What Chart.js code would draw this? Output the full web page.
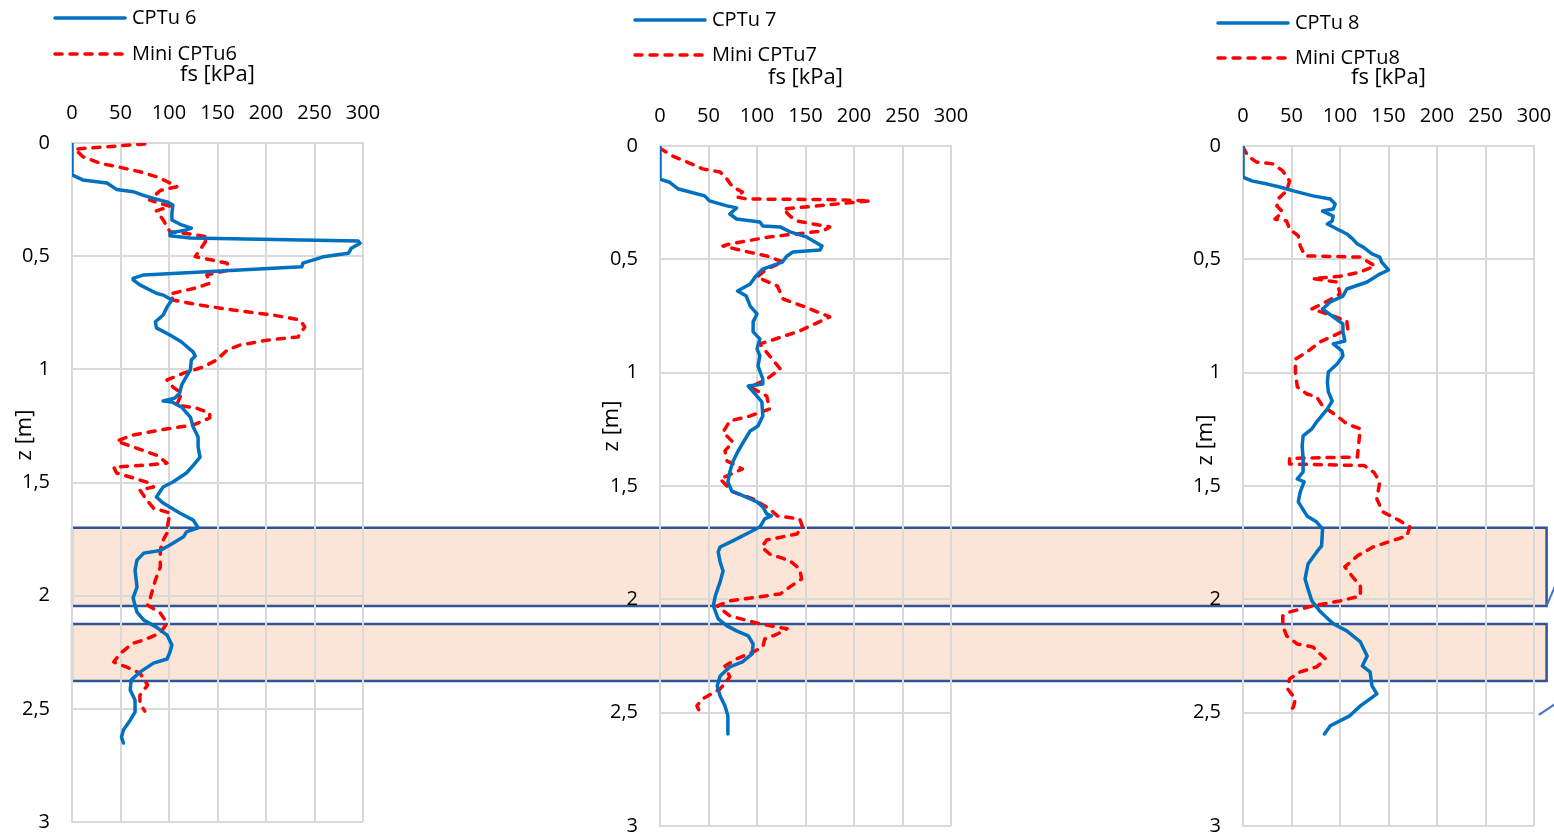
<!DOCTYPE html>
<html>
<head>
<meta charset="utf-8">
<title>fs profiles CPTu vs Mini CPTu</title>
<script src="https://cdn.jsdelivr.net/npm/chart.js@4.4.1/dist/chart.umd.min.js"></script>
<style>
    html, body { margin: 0; padding: 0; background: #fff; overflow: hidden; }
    #wrap { position: relative; width: 1554px; height: 837px; overflow: hidden; }
    #wrap canvas { position: absolute; top: 0; }
</style>
</head>
<body>
<div id="wrap">
    <canvas id="bands" width="1554" height="837" style="left:0"></canvas>
    <canvas id="chart6" width="400" height="860" style="left:0px"></canvas>
    <canvas id="chart7" width="400" height="860" style="left:588px"></canvas>
    <canvas id="chart8" width="400" height="860" style="left:1171px"></canvas>
</div>
<script>
// axis ticks
const fsTicks = [0, 50, 100, 150, 200, 250, 300];
const zTicks = [0, 0.5, 1, 1.5, 2, 2.5, 3];

// CPTu 6
const z6 = [0, 0.141, 0.163, 0.177, 0.205, 0.215, 0.23, 0.245, 0.26, 0.274, 0.31, 0.34, 0.362, 0.376, 0.384, 0.397, 0.41, 0.42, 0.433, 0.443, 0.465, 0.487, 0.503, 0.531, 0.547, 0.583, 0.598, 0.605, 0.627, 0.664, 0.672, 0.694, 0.725, 0.76, 0.79, 0.817, 0.848, 0.879, 0.924, 0.941, 0.959, 1.003, 1.039, 1.07, 1.105, 1.127, 1.14, 1.144, 1.167, 1.211, 1.255, 1.299, 1.343, 1.388, 1.414, 1.458, 1.498, 1.52, 1.564, 1.591, 1.635, 1.666, 1.70, 1.718, 1.74, 1.776, 1.80, 1.812, 1.843, 1.887, 1.962, 2.01, 2.073, 2.108, 2.139, 2.174, 2.218, 2.249, 2.28, 2.298, 2.338, 2.373, 2.417, 2.461, 2.514, 2.55, 2.594, 2.625, 2.651];
const fs6 = [0, 0, 11, 36, 46, 63, 73, 84, 98, 104, 103, 103, 113, 123, 118, 101, 101, 122, 295, 297, 288, 285, 259, 238, 237, 74, 63, 63, 70, 87, 94, 103, 98, 94, 86, 87, 101, 113, 125, 127, 123, 122, 117, 113, 111, 106, 94, 103, 113, 122, 125, 130, 130, 132, 127, 118, 104, 94, 87, 94, 111, 125, 130, 118, 115, 101, 91, 74, 67, 65, 67, 63, 67, 74, 87, 98, 103, 101, 98, 84, 70, 61, 60, 65, 65, 60, 53, 51, 53];

// Mini CPTu6
const zMini6 = [0.004, 0.027, 0.06, 0.09, 0.104, 0.127, 0.149, 0.17, 0.193, 0.21, 0.252, 0.28, 0.30, 0.34, 0.37, 0.392, 0.40, 0.415, 0.44, 0.502, 0.531, 0.562, 0.583, 0.62, 0.64, 0.667, 0.694, 0.716, 0.738, 0.76, 0.782, 0.813, 0.857, 0.871, 0.893, 0.915, 0.959, 0.99, 1.017, 1.047, 1.078, 1.105, 1.158, 1.171, 1.193, 1.215, 1.246, 1.268, 1.29, 1.317, 1.343, 1.379, 1.414, 1.423, 1.432, 1.458, 1.48, 1.502, 1.52, 1.533, 1.577, 1.613, 1.635, 1.679, 1.723, 1.754, 1.798, 1.874, 1.931, 2.006, 2.042, 2.077, 2.121, 2.165, 2.196, 2.21, 2.254, 2.293, 2.315, 2.342, 2.395, 2.44, 2.475, 2.51];
const fsMini6 = [75, 3, 11, 29, 46, 70, 87, 98, 108, 91, 80, 101, 87, 94, 98, 101, 118, 140, 137, 127, 160, 161, 139, 142, 128, 101, 104, 132, 166, 207, 235, 240, 233, 201, 173, 160, 149, 135, 115, 98, 104, 113, 108, 128, 142, 142, 125, 91, 63, 46, 63, 87, 98, 77, 43, 46, 63, 80, 84, 70, 77, 84, 101, 99, 98, 94, 91, 91, 86, 81, 78, 91, 98, 91, 74, 63, 50, 43, 56, 70, 78, 70, 70, 75];

// CPTu 7
const z7 = [0, 0.146, 0.16, 0.19, 0.203, 0.22, 0.242, 0.264, 0.273, 0.30, 0.322, 0.335, 0.353, 0.357, 0.379, 0.401, 0.441, 0.459, 0.468, 0.485, 0.512, 0.543, 0.573, 0.609, 0.64, 0.662, 0.706, 0.741, 0.776, 0.82, 0.851, 0.895, 0.926, 0.97, 1.028, 1.05, 1.059, 1.094, 1.129, 1.191, 1.235, 1.257, 1.306, 1.35, 1.394, 1.438, 1.482, 1.522, 1.544, 1.57, 1.592, 1.623, 1.632, 1.645, 1.68, 1.703, 1.742, 1.769, 1.791, 1.835, 1.875, 1.923, 1.985, 2.029, 2.086, 2.117, 2.139, 2.161, 2.197, 2.241, 2.276, 2.298, 2.338, 2.382, 2.426, 2.47, 2.514, 2.594];
const fs7 = [0, 0, 10, 19, 31, 46, 51, 69, 79, 72, 79, 103, 106, 124, 134, 151, 167, 165, 137, 131, 126, 106, 99, 93, 80, 89, 93, 100, 96, 96, 103, 100, 103, 101, 106, 106, 91, 98, 105, 106, 101, 93, 86, 80, 75, 72, 70, 74, 86, 100, 106, 110, 115, 108, 103, 93, 75, 62, 60, 62, 65, 62, 57, 55, 60, 69, 79, 91, 96, 95, 85, 72, 62, 59, 62, 67, 70, 70];

// Mini CPTu7
const zMini7 = [0.01, 0.044, 0.071, 0.101, 0.115, 0.146, 0.181, 0.203, 0.225, 0.234, 0.236, 0.242, 0.278, 0.309, 0.331, 0.357, 0.375, 0.401, 0.432, 0.441, 0.463, 0.485, 0.512, 0.543, 0.578, 0.618, 0.675, 0.706, 0.754, 0.816, 0.86, 0.873, 0.926, 0.984, 1.028, 1.063, 1.103, 1.16, 1.191, 1.213, 1.262, 1.306, 1.345, 1.389, 1.425, 1.469, 1.526, 1.557, 1.601, 1.632, 1.645, 1.681, 1.712, 1.738, 1.769, 1.80, 1.83, 1.866, 1.91, 1.945, 1.976, 2.007, 2.029, 2.073, 2.108, 2.13, 2.153, 2.175, 2.21, 2.232, 2.263, 2.294, 2.342, 2.395, 2.439, 2.47, 2.497];
const fsMini7 = [0, 13, 28, 44, 62, 69, 75, 85, 79, 90, 170, 217, 127, 134, 141, 175, 168, 113, 72, 65, 86, 110, 127, 110, 100, 121, 127, 147, 175, 144, 113, 103, 113, 124, 110, 93, 110, 113, 93, 72, 65, 75, 67, 69, 85, 62, 75, 96, 113, 121, 144, 147, 141, 110, 105, 113, 134, 144, 146, 134, 124, 72, 59, 72, 103, 131, 121, 108, 106, 96, 79, 67, 72, 62, 44, 38, 41];

// CPTu 8
const z8 = [0, 0.137, 0.154, 0.168, 0.181, 0.198, 0.22, 0.234, 0.256, 0.278, 0.287, 0.309, 0.331, 0.344, 0.366, 0.388, 0.41, 0.432, 0.446, 0.476, 0.49, 0.512, 0.547, 0.565, 0.6, 0.631, 0.662, 0.688, 0.719, 0.754, 0.785, 0.82, 0.86, 0.873, 0.904, 0.926, 0.962, 0.997, 1.041, 1.085, 1.125, 1.16, 1.217, 1.248, 1.279, 1.323, 1.381, 1.438, 1.469, 1.482, 1.526, 1.57, 1.632, 1.659, 1.69, 1.764, 1.791, 1.844, 1.91, 1.954, 2.007, 2.051, 2.108, 2.139, 2.188, 2.25, 2.294, 2.32, 2.382, 2.417, 2.439, 2.47, 2.514, 2.536, 2.558, 2.594];
const fs8 = [0, 0, 9, 25, 38, 52, 72, 90, 95, 93, 82, 93, 92, 87, 97, 107, 113, 118, 124, 133, 141, 143, 150, 141, 128, 107, 103, 90, 82, 93, 103, 103, 105, 93, 102, 103, 97, 88, 87, 88, 92, 87, 76, 71, 62, 61, 62, 62, 56, 63, 59, 57, 66, 76, 82, 81, 76, 67, 64, 67, 71, 79, 93, 107, 121, 128, 123, 131, 133, 138, 131, 121, 110, 100, 90, 84];

// Mini CPTu8
const zMini8 = [0.005, 0.044, 0.071, 0.079, 0.11, 0.154, 0.198, 0.234, 0.265, 0.291, 0.322, 0.331, 0.366, 0.397, 0.441, 0.485, 0.487, 0.49, 0.529, 0.556, 0.575, 0.585, 0.6, 0.653, 0.684, 0.719, 0.741, 0.772, 0.807, 0.838, 0.865, 0.909, 0.94, 0.997, 1.063, 1.094, 1.107, 1.147, 1.191, 1.226, 1.248, 1.323, 1.372, 1.378, 1.403, 1.41, 1.44, 1.482, 1.557, 1.614, 1.654, 1.681, 1.72, 1.734, 1.769, 1.808, 1.857, 1.901, 1.941, 1.985, 2.007, 2.029, 2.056, 2.073, 2.117, 2.161, 2.197, 2.21, 2.263, 2.298, 2.32, 2.351, 2.395, 2.439, 2.475, 2.506];
const fsMini8 = [0, 5, 14, 31, 41, 48, 45, 36, 35, 41, 33, 45, 48, 57, 59, 64, 90, 121, 136, 121, 100, 72, 97, 100, 87, 71, 87, 107, 108, 93, 79, 66, 54, 54, 56, 66, 76, 82, 97, 107, 121, 119, 118, 48, 48, 125, 135, 141, 138, 144, 162, 172, 169, 159, 134, 118, 105, 113, 121, 121, 100, 72, 48, 41, 41, 45, 56, 72, 85, 76, 59, 48, 46, 54, 52, 46];

// highlighted depth bands (z in m) and the pointer lines at the right edge
const bandTop = [1.70, 2.125];
const bandBottom = [2.046, 2.377];
const bandRightFs = 313;
const pointerFrom = [[313, 2.029], [305, 2.51]];
const pointerTo = [[327, 1.888], [342, 2.404]];

const panelLeft = [0, 588, 1171];

Chart.defaults.font.family = '"Open Sans", sans-serif';
Chart.defaults.font.size = 20;
Chart.defaults.color = '#000';

const gridColor = '#d9d9d9';

// Stacked legend + rotated depth title, drawn like the spreadsheet original
const panelText = {
    id: 'panelText',
    afterDraw(chart, args, opts) {
        const ctx = chart.ctx;
        ctx.save();
        ctx.font = '20px "Open Sans", sans-serif';
        ctx.fillStyle = '#000';
        ctx.textBaseline = 'middle';
        chart.data.datasets.forEach((ds, i) => {
            const y = opts.legendY + i * opts.rowGap;
            ctx.beginPath();
            ctx.setLineDash(ds.borderDash || []);
            ctx.lineCap = ds.borderCapStyle || 'butt';
            ctx.strokeStyle = ds.borderColor;
            ctx.lineWidth = ds.borderWidth;
            ctx.moveTo(opts.legendX, y);
            ctx.lineTo(opts.legendX + 70, y);
            ctx.stroke();
            ctx.setLineDash([]);
            ctx.fillText(ds.label, opts.legendX + 77, y);
        });
        ctx.translate(opts.titleX, opts.titleY);
        ctx.rotate(-Math.PI / 2);
        ctx.textAlign = 'center';
        ctx.font = '22px "Open Sans", sans-serif';
        ctx.fillText('z [m]', 0, 0);
        ctx.restore();
    }
};

function profile(zs, fs) {
    return zs.map((z, i) => ({ x: fs[i], y: z }));
}

function makePanel(id, cptLabel, miniLabel, zCpt, fsCpt, zMini, fsMini, layout, text) {
    return new Chart(document.getElementById(id), {
        type: 'scatter',
        data: {
            datasets: [{
                label: cptLabel,
                data: profile(zCpt, fsCpt),
                showLine: true,
                borderColor: '#0070c0',
                borderWidth: 3.5,
                borderJoinStyle: 'round',
                borderCapStyle: 'round',
                pointRadius: 0
            }, {
                label: miniLabel,
                data: profile(zMini, fsMini),
                showLine: true,
                borderColor: '#ff0000',
                borderWidth: 3.5,
                borderDash: [7, 8],
                borderCapStyle: 'round',
                borderJoinStyle: 'round',
                pointRadius: 0
            }]
        },
        options: {
            responsive: false,
            animation: false,
            events: [],
            layout: { padding: layout },
            scales: {
                x: {
                    type: 'linear',
                    position: 'top',
                    min: fsTicks[0],
                    max: fsTicks[fsTicks.length - 1],
                    afterBuildTicks: scale => { scale.ticks = fsTicks.map(v => ({ value: v })); },
                    afterFit: scale => { scale.height = 90; },
                    grid: { color: gridColor, lineWidth: 2, drawTicks: false },
                    border: { color: gridColor, width: 2 },
                    ticks: { padding: 18, maxRotation: 0 },
                    title: { display: true, text: 'fs [kPa]', font: { size: 22 }, padding: { top: 9, bottom: 0 } }
                },
                y: {
                    type: 'linear',
                    reverse: true,
                    min: zTicks[0],
                    max: zTicks[zTicks.length - 1],
                    afterBuildTicks: scale => { scale.ticks = zTicks.map(v => ({ value: v })); },
                    afterFit: scale => { scale.width = 72; },
                    grid: { color: gridColor, lineWidth: 2, drawTicks: false },
                    border: { color: gridColor, width: 2 },
                    ticks: {
                        padding: 22,
                        callback: value => String(value).replace('.', ',')
                    }
                }
            },
            plugins: {
                legend: { display: false },
                tooltip: { enabled: false },
                panelText: text
            }
        },
        plugins: [panelText]
    });
}

const chart6 = makePanel('chart6', 'CPTu 6', 'Mini CPTu6', z6, fs6, zMini6, fsMini6,
    { left: 0, right: 37, top: 53, bottom: 38 },
    { legendX: 55, legendY: 18, rowGap: 36, titleX: 25, titleY: 435 });
const chart7 = makePanel('chart7', 'CPTu 7', 'Mini CPTu7', z7, fs7, zMini7, fsMini7,
    { left: 0, right: 37, top: 56, bottom: 33 },
    { legendX: 47, legendY: 20, rowGap: 35, titleX: 24, titleY: 426 });
const chart8 = makePanel('chart8', 'CPTu 8', 'Mini CPTu8', z8, fs8, zMini8, fsMini8,
    { left: 0, right: 37, top: 56, bottom: 33 },
    { legendX: 47, legendY: 23, rowGap: 35, titleX: 35, titleY: 440 });

// Bands run across all three panels, positioned with the panel scales
function drawBands() {
    const ctx = document.getElementById('bands').getContext('2d');
    const ys = chart6.scales.y;
    const left = chart6.scales.x.getPixelForValue(0) + panelLeft[0];
    const right = chart8.scales.x.getPixelForValue(bandRightFs) + panelLeft[2];

    bandTop.forEach((zTop, i) => {
        const top = ys.getPixelForValue(zTop);
        const bottom = ys.getPixelForValue(bandBottom[i]);
        ctx.fillStyle = '#fbe5d6';
        ctx.fillRect(left, top, right - left, bottom - top);

        ctx.lineWidth = 2.5;
        ctx.strokeStyle = '#2f5597';
        ctx.beginPath();
        ctx.moveTo(left, top);
        ctx.lineTo(right, top);
        ctx.lineTo(right, bottom);
        ctx.lineTo(left, bottom);
        ctx.stroke();

        ctx.strokeStyle = '#a3a8c0';
        ctx.beginPath();
        ctx.moveTo(left, top);
        ctx.lineTo(left, bottom);
        ctx.stroke();
    });

    const xs8 = chart8.scales.x, ys8 = chart8.scales.y;
    ctx.strokeStyle = '#4472c4';
    ctx.lineWidth = 2;
    pointerFrom.forEach((p, i) => {
        const q = pointerTo[i];
        ctx.beginPath();
        ctx.moveTo(xs8.getPixelForValue(p[0]) + panelLeft[2], ys8.getPixelForValue(p[1]));
        ctx.lineTo(xs8.getPixelForValue(q[0]) + panelLeft[2], ys8.getPixelForValue(q[1]));
        ctx.stroke();
    });
}

drawBands();
</script>
</body>
</html>
